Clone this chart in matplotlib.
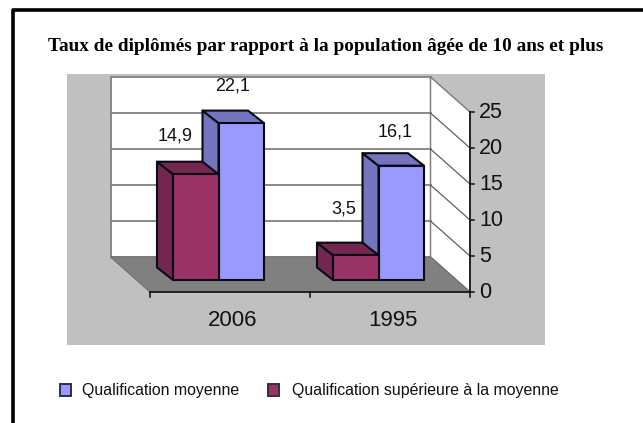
import matplotlib
matplotlib.use("Agg")
import matplotlib.pyplot as plt
from matplotlib.patches import Polygon, Rectangle

title = "Taux de diplômés par rapport à la population âgée de 10 ans et plus"
categories = ["2006", "1995"]
moyenne = [22.1, 16.1]
superieure = [14.9, 3.5]
yticks = [0, 5, 10, 15, 20, 25]
series_names = ["Qualification moyenne", "Qualification supérieure à la moyenne"]

BLUE, BLUE_D = "#9999FF", "#7575BF"
MAROON, MAROON_D = "#993366", "#732650"
INK = "#111111"
SANS = "Liberation Sans"

W, H = 643, 423
fig = plt.figure(figsize=(W / 100, H / 100), dpi=100)
ax = fig.add_axes([0, 0, 1, 1])
ax.set_xlim(0, W)
ax.set_ylim(H, 0)
ax.axis("off")

# page frame
ax.add_line(plt.Line2D([13, 13, W], [H, 10, 10], color="black", lw=2.6, zorder=1))

# grey chart panel
ax.add_patch(Rectangle((67, 74), 478, 271, fc="#C0C0C0", ec="none", zorder=1))

# 3D frame geometry in pixels
X0, X1 = 150, 470       # front axis extent
Y0 = 292                # y pixel of value 0 on the front axis
UNIT = 7.2              # pixels per value unit
DX, DY = -39.5, -35     # offset front to back
BAR_DX, BAR_DY = -16, -12.5
BASE_Y = 280            # bar front base
BAR_W = 45.5
CAT_W = (X1 - X0) / len(categories)
BAR_START = 23          # first bar offset inside a category


def vy(v):
    return Y0 - v * UNIT


top = vy(max(yticks))
back_top = top + DY
ax.add_patch(Polygon([(X0 + DX, back_top), (X1 + DX, back_top), (X1 + DX, Y0 + DY), (X0 + DX, Y0 + DY)],
                     closed=True, fc="white", ec="#808080", lw=1.3, zorder=2))
ax.add_patch(Polygon([(X1 + DX, back_top), (X1, top), (X1, Y0), (X1 + DX, Y0 + DY)],
                     closed=True, fc="white", ec="#808080", lw=1.1, zorder=2))
ax.add_patch(Polygon([(X0 + DX, Y0 + DY), (X1 + DX, Y0 + DY), (X1, Y0), (X0, Y0)],
                     closed=True, fc="#808080", ec="#707070", lw=0.8, zorder=3))
for t in yticks[1:-1]:
    y = vy(t)
    ax.plot([X0 + DX, X1 + DX], [y + DY, y + DY], color="#808080", lw=1.3, zorder=3)
    ax.plot([X1 + DX, X1], [y + DY, y], color="#606060", lw=0.9, zorder=3)

# axes
ax.plot([X0, X1], [Y0, Y0], color=INK, lw=1.2, zorder=4)
ax.plot([X1, X1], [top, Y0], color=INK, lw=1.2, zorder=4)
for t in yticks:
    ax.plot([X1, X1 + 4], [vy(t), vy(t)], color=INK, lw=1.1, zorder=4)
    ax.text(X1 + 9, vy(t) + 1, str(t), fontsize=15.5, family=SANS, va="center", ha="left", color=INK, zorder=6)
for i in range(len(categories) + 1):
    x = X0 + i * CAT_W
    ax.plot([x, x], [Y0, Y0 + 5], color=INK, lw=1.1, zorder=4)
for i, c in enumerate(categories):
    ax.text(X0 + (i + 0.5) * CAT_W + 3, 321, c, fontsize=16, family=SANS, va="center", ha="center", color=INK, zorder=6)


def bar3d(x, v, front, dark, z):
    y = BASE_Y - v * 7.1
    kw = dict(ec="#0A0A14", lw=1.5, joinstyle="round", zorder=z)
    ax.add_patch(Polygon([(x, y), (x + BAR_DX, y + BAR_DY), (x + BAR_DX, BASE_Y + BAR_DY), (x, BASE_Y)], closed=True, fc=dark, **kw))
    ax.add_patch(Polygon([(x, y), (x + BAR_DX, y + BAR_DY), (x + BAR_W + BAR_DX, y + BAR_DY), (x + BAR_W, y)], closed=True, fc=dark, **kw))
    ax.add_patch(Rectangle((x, y), BAR_W, BASE_Y - y, fc=front, **kw))


for i in range(len(categories)):
    x = X0 + i * CAT_W + BAR_START
    bar3d(x + BAR_W, moyenne[i], BLUE, BLUE_D, 5)
    bar3d(x, superieure[i], MAROON, MAROON_D, 5.5)

# data labels: offset from the bar's front top centre
label_off_m = [(-9, -37), (-6, -34)]
label_off_s = [(-21, -38), (-12, -46)]
for i in range(len(categories)):
    x = X0 + i * CAT_W + BAR_START
    for vals, bx, off in ((moyenne, x + BAR_W + BAR_W / 2, label_off_m[i]), (superieure, x + BAR_W / 2, label_off_s[i])):
        v = vals[i]
        ax.text(bx + off[0], BASE_Y - v * 7.1 + off[1], f"{v}".replace(".", ","),
                fontsize=13, family=SANS, ha="center", va="center", color=INK, zorder=7)

ax.text(325.5, 46.5, title, fontsize=13.9, family="Liberation Serif", weight="bold", ha="center", va="center", color="black", zorder=7)

# legend
for lx, col, tx, name in ((60, BLUE, 82, series_names[0]), (268, MAROON, 292, series_names[1])):
    ax.add_patch(Rectangle((lx, 384), 11, 12, fc=col, ec="#303040", lw=1.4, zorder=5))
    ax.text(tx, 390.5, name, fontsize=11.45, family=SANS, ha="left", va="center", color=INK, zorder=7)

fig.savefig("out.png", dpi=100)
